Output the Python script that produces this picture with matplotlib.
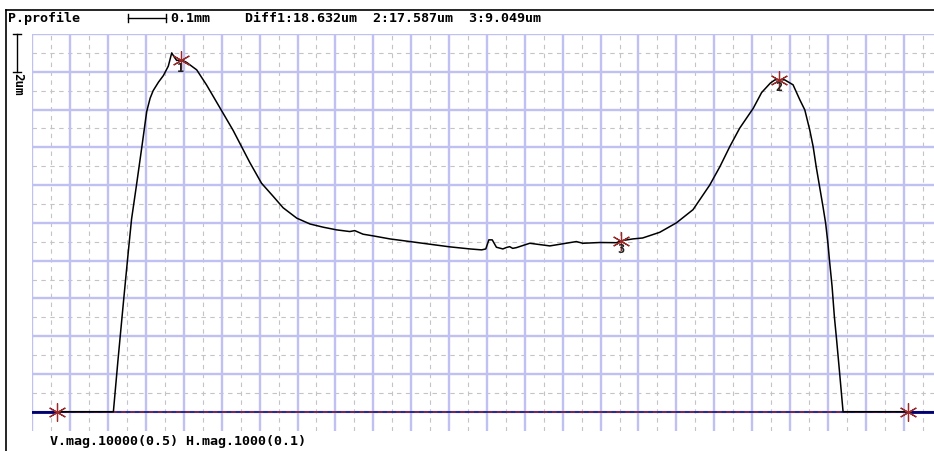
import numpy as np
import matplotlib
matplotlib.use("Agg")
from matplotlib import pyplot as plt
from matplotlib.lines import Line2D
import matplotlib.transforms as mtransforms

# profile trace (x in um, height in um)
profile_x = [66, 214, 226, 241, 254, 262, 275, 289, 302, 311, 319, 333, 346, 359, 368, 374, 381,
             392, 407, 434, 460, 495, 530, 574, 605, 636, 662, 698, 733, 768, 803, 838,
             851, 873, 900, 944, 997, 1049, 1102, 1155, 1186, 1197, 1205, 1214, 1225,
             1242, 1252, 1260, 1268, 1278, 1313, 1366, 1436, 1453, 1498, 1542, 1553,
             1585, 1611, 1656, 1700, 1744, 1788, 1815, 1841, 1867, 1903, 1925, 1948,
             1960, 1971, 1986, 2008, 2026, 2039, 2052, 2061, 2069, 2078, 2087, 2094,
             2100, 2104, 2111, 2117, 2123, 2131, 2140, 2311]
profile_y = [0, 0, 2.7, 5.9, 8.6, 10.2, 12.0, 14.0, 15.9, 16.6, 17.0, 17.45, 17.8, 18.3, 19.0, 18.8,
             18.6, 18.632, 18.5, 18.1, 17.3, 16.1, 14.9, 13.2, 12.1, 11.4, 10.8, 10.25, 9.94,
             9.77, 9.63, 9.54, 9.59, 9.40, 9.31, 9.15, 9.01, 8.87, 8.73, 8.62, 8.57, 8.62,
             9.10, 9.10, 8.71, 8.62, 8.70, 8.74, 8.65, 8.69, 8.92, 8.78, 9.01, 8.92, 8.96,
             8.95, 9.049, 9.15, 9.20, 9.5, 10.0, 10.7, 12.0, 12.98, 14.04, 15.01, 16.07,
             16.9, 17.4, 17.57, 17.587, 17.57, 17.31, 16.51, 15.98, 14.92, 14.04, 12.98,
             11.92, 10.86, 9.98, 8.92, 8.04, 6.63, 5.04, 3.79, 2.03, 0, 0]

# measurement points
point_labels = ["1", "2", "3"]
point_x = [392, 1971, 1553]
point_y = [18.632, 17.587, 9.049]

# baseline reference points
base_x = [66, 2311]
base_y = [0, 0]

header = "Diff1:18.632um  2:17.587um  3:9.049um"
footer = "V.mag.10000(0.5) H.mag.1000(0.1)"

W, H = 934, 451
fig = plt.figure(figsize=(W / 100, H / 100), dpi=100)
fig.patch.set_facecolor("white")

ax = fig.add_axes([32.3 / W, 20 / H, (W - 32.3) / W, 397 / H])
ax.set_xlim(0, 2380)
ax.set_ylim(-1.02, 20)
for s in ax.spines.values():
    s.set_visible(False)
ax.set_xticks([])
ax.set_yticks([])

# grid: minor dashed grey, major light blue
major_col = "#c0c0f2"
minor_col = "#c4c4c8"
for xv in np.arange(50, 2380, 100):
    ax.axvline(xv, color=minor_col, lw=0.8, ls=(0, (4, 4)), zorder=1)
for yv in np.arange(1, 20, 2):
    ax.axhline(yv, color=minor_col, lw=0.8, ls=(0, (4, 4)), zorder=1)
for xv in np.arange(0, 2380, 100):
    ax.axvline(xv, color=major_col, lw=1.7, zorder=2)
for yv in np.arange(0, 21, 2):
    ax.axhline(yv, color=major_col, lw=1.7, zorder=2)

# baseline
ax.plot([0, 2380], [0, 0], color="#000070", lw=1.1, zorder=3)
ax.plot([0, base_x[0]], [0, 0], color="#000070", lw=2.0, zorder=3)
ax.plot([base_x[1], 2380], [0, 0], color="#000070", lw=2.0, zorder=3)
ax.plot(base_x, base_y, color="#8a2a40", lw=1.1, ls=(0, (3, 3)), zorder=4)

# profile
ax.plot(profile_x, profile_y, color="black", lw=1.1, zorder=5)

# star markers
star = (6, 2, 0)
ax.plot(point_x, point_y, ls="none", marker=star, ms=13, mew=0.9,
        mec="#9a2a2a", zorder=6)
ax.plot(base_x, base_y, ls="none", marker=star, ms=13, mew=0.9,
        mec="#9a2a2a", zorder=6)
for lab, px, py in zip(point_labels, point_x, point_y):
    ax.annotate(lab, (px, py), xytext=(0, -6), textcoords="offset points",
                ha="center", va="center", fontsize=8.5, fontweight="bold",
                family="DejaVu Sans Mono", color="#202020", zorder=7)

# frame lines
fig.add_artist(Line2D([6 / W, 6 / W], [0, 1 - 10 / H], color="black", lw=1.2))
fig.add_artist(Line2D([6 / W, 1], [1 - 10 / H, 1 - 10 / H], color="black", lw=1.2))

font = dict(family="DejaVu Sans Mono", fontweight="bold", fontsize=9.6, color="black")
fig.text(8 / W, 1 - 18 / H, "P.profile", ha="left", va="center", **font)
fig.text(170 / W, 1 - 18 / H, "0.1mm", ha="left", va="center", **font)
fig.text(245 / W, 1 - 18 / H, header, ha="left", va="center", **font)
fig.text(50 / W, 1 - 441 / H, footer, ha="left", va="center", **font)

# horizontal scale bar (100 um)
trans_x = mtransforms.blended_transform_factory(ax.transData, fig.transFigure)
yb = 1 - 18 / H
cap = 4 / H
bx0, bx1 = 252, 352
ax.plot([bx0, bx1], [yb, yb], color="black", lw=1, transform=trans_x, clip_on=False)
ax.plot([bx0, bx0], [yb - cap, yb + cap], color="black", lw=1, transform=trans_x, clip_on=False)
ax.plot([bx1, bx1], [yb - cap, yb + cap], color="black", lw=1, transform=trans_x, clip_on=False)

# vertical scale bar (2 um)
trans_y = mtransforms.blended_transform_factory(fig.transFigure, ax.transData)
xb = 17 / W
capx = 4 / W
ax.plot([xb, xb], [18, 20], color="black", lw=1, transform=trans_y, clip_on=False)
ax.plot([xb - capx, xb + capx], [20, 20], color="black", lw=1, transform=trans_y, clip_on=False)
ax.plot([xb - capx, xb + capx], [18, 18], color="black", lw=1, transform=trans_y, clip_on=False)
fig.text(18 / W, 1 - 84 / H, "2um", rotation=270, ha="center", va="center",
         family="DejaVu Sans Mono", fontweight="bold", fontsize=9)

fig.savefig("out.png", dpi=100)
